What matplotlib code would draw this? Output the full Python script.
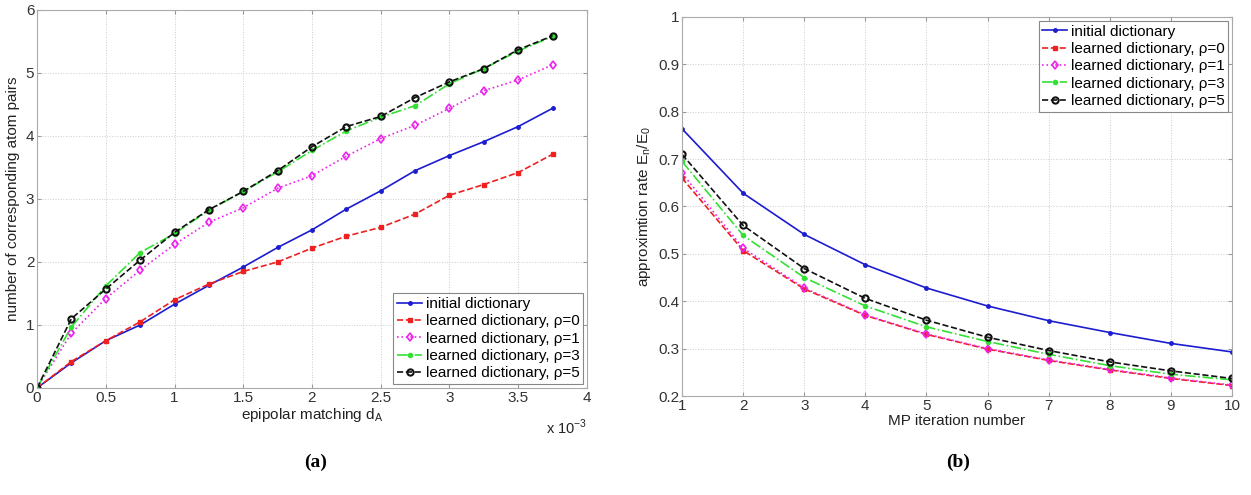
import matplotlib
matplotlib.use("Agg")
import matplotlib.pyplot as plt

# ---- data -------------------------------------------------------------
# (a) epipolar matching threshold d_A (in units of 1e-3)
d_a = [0, 0.25, 0.5, 0.75, 1.0, 1.25, 1.5, 1.75, 2.0, 2.25, 2.5, 2.75,
       3.0, 3.25, 3.5, 3.75]
pairs_init = [0, 0.40, 0.75, 1.00, 1.33, 1.63, 1.92, 2.23, 2.51, 2.84,
              3.13, 3.45, 3.69, 3.91, 4.15, 4.44]
pairs_rho0 = [0, 0.42, 0.75, 1.05, 1.40, 1.65, 1.85, 2.00, 2.22, 2.41,
              2.55, 2.76, 3.06, 3.23, 3.42, 3.71]
pairs_rho1 = [0, 0.87, 1.42, 1.87, 2.28, 2.63, 2.86, 3.17, 3.37, 3.68,
              3.96, 4.17, 4.44, 4.72, 4.89, 5.13]
pairs_rho3 = [0, 0.97, 1.62, 2.15, 2.45, 2.82, 3.12, 3.43, 3.77, 4.08,
              4.30, 4.48, 4.83, 5.07, 5.35, 5.58]
pairs_rho5 = [0, 1.10, 1.57, 2.03, 2.47, 2.83, 3.12, 3.45, 3.83, 4.15,
              4.31, 4.61, 4.86, 5.07, 5.37, 5.59]

# (b) approximation rate vs MP iteration
mp_iter = [1, 2, 3, 4, 5, 6, 7, 8, 9, 10]
rate_init = [0.764, 0.628, 0.541, 0.477, 0.428, 0.390, 0.359, 0.334, 0.311, 0.293]
rate_rho0 = [0.660, 0.507, 0.426, 0.370, 0.330, 0.299, 0.275, 0.255, 0.237, 0.222]
rate_rho1 = [0.670, 0.512, 0.428, 0.371, 0.331, 0.300, 0.276, 0.256, 0.238, 0.223]
rate_rho3 = [0.695, 0.539, 0.450, 0.390, 0.346, 0.315, 0.288, 0.264, 0.246, 0.234]
rate_rho5 = [0.710, 0.560, 0.469, 0.406, 0.360, 0.324, 0.296, 0.272, 0.253, 0.237]

labels = ["initial dictionary",
          "learned dictionary, \u03c1=0",
          "learned dictionary, \u03c1=1",
          "learned dictionary, \u03c1=3",
          "learned dictionary, \u03c1=5"]

STYLES = [
    dict(color="#1c1cd0", ls="-", marker=".", ms=5),
    dict(color="#ee2020", ls="--", marker="s", ms=3.5),
    dict(color="#ee22ee", ls=":", marker="d", ms=4.5, mfc="none", mew=1.2),
    dict(color="#33e033", ls="-.", marker=".", ms=6),
    dict(color="#111111", ls="--", marker="o", ms=4.5, mfc="none", mew=1.5),
]

plt.rcParams.update({
    "font.family": ["Liberation Sans", "DejaVu Sans"],
    "font.size": 11,
    "xtick.direction": "in",
    "ytick.direction": "in",
    "xtick.top": True,
    "ytick.right": True,
    "xtick.major.size": 3,
    "ytick.major.size": 3,
    "xtick.color": "#999999",
    "ytick.color": "#999999",
    "xtick.labelcolor": "#333333",
    "ytick.labelcolor": "#333333",
    "axes.edgecolor": "#aaaaaa",
    "axes.linewidth": 0.8,
})

fig = plt.figure(figsize=(12.51, 4.95), dpi=100)
ax1 = fig.add_axes([0.0296, 0.2162, 0.4396, 0.7636])
ax2 = fig.add_axes([0.5452, 0.2000, 0.4396, 0.7657])


def style_axes(ax):
    ax.grid(True, ls=":", color="#cccccc", lw=0.7)
    ax.set_axisbelow(True)
    ax.tick_params(pad=2)


def make_legend(ax, loc):
    leg = ax.legend(loc=loc, fontsize=11, frameon=True, fancybox=False,
                    handlelength=1.6, handletextpad=0.25, labelspacing=0.22,
                    borderpad=0.25, borderaxespad=0.25, framealpha=1)
    leg.get_frame().set_edgecolor("#888888")
    leg.get_frame().set_linewidth(0.8)


# ---- (a) ---------------------------------------------------------------
for ys, lab, st in zip([pairs_init, pairs_rho0, pairs_rho1, pairs_rho3, pairs_rho5],
                       labels, STYLES):
    ax1.plot(d_a, ys, label=lab, lw=1.2, **st)
ax1.set_xlim(0, 4)
ax1.set_ylim(0, 6)
ax1.set_xticks([0, 0.5, 1, 1.5, 2, 2.5, 3, 3.5, 4])
ax1.set_xticklabels(["0", "0.5", "1", "1.5", "2", "2.5", "3", "3.5", "4"])
ax1.set_yticks(range(7))
style_axes(ax1)
ax1.set_xlabel("epipolar matching d$_{\\mathregular{A}}$", labelpad=1, color="#222222")
ax1.set_ylabel("number of corresponding atom pairs", labelpad=4, color="#222222")
ax1.text(1.0, -0.105, "x 10$^{\\mathregular{-3}}$", transform=ax1.transAxes,
         ha="right", va="center", fontsize=10.5, color="#222222")
make_legend(ax1, "lower right")

# ---- (b) ---------------------------------------------------------------
for ys, lab, st in zip([rate_init, rate_rho0, rate_rho1, rate_rho3, rate_rho5],
                       labels, STYLES):
    ax2.plot(mp_iter, ys, label=lab, lw=1.2, **st)
ax2.set_xlim(1, 10)
ax2.set_ylim(0.2, 1.0)
ax2.set_xticks(mp_iter)
ax2.set_yticks([0.2, 0.3, 0.4, 0.5, 0.6, 0.7, 0.8, 0.9, 1.0])
ax2.set_yticklabels(["0.2", "0.3", "0.4", "0.5", "0.6", "0.7", "0.8", "0.9", "1"])
style_axes(ax2)
ax2.set_xlabel("MP iteration number", labelpad=1, color="#222222")
ax2.set_ylabel("approximtion rate E$_{\\mathregular{n}}$/E$_{\\mathregular{0}}$",
               labelpad=4, color="#222222")
make_legend(ax2, "upper right")

# panel captions
fig.text(316 / 1251, 1 - 462 / 495, "(a)", ha="center", va="center",
         fontsize=14, fontweight="bold", family="Liberation Serif")
fig.text(958 / 1251, 1 - 462 / 495, "(b)", ha="center", va="center",
         fontsize=14, fontweight="bold", family="Liberation Serif")

fig.savefig("out.png", dpi=100)
